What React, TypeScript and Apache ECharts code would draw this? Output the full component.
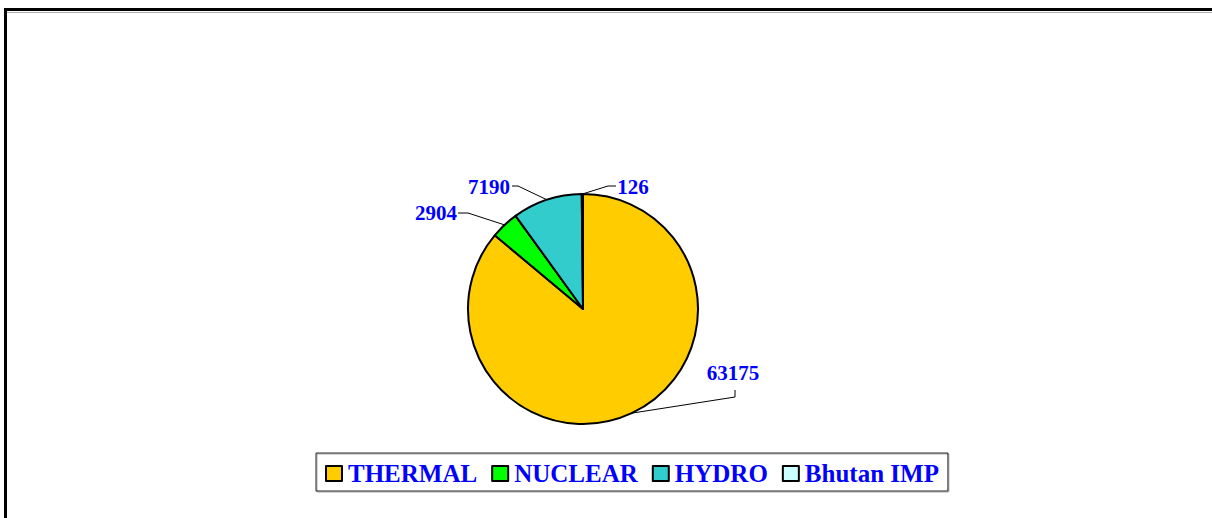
import React, { useEffect, useRef } from "react";
import * as echarts from "echarts";

const categories = ["THERMAL", "NUCLEAR", "HYDRO", "Bhutan IMP"];
const values = [63175, 2904, 7190, 126];
const colors = ["#FFCC00", "#00FF00", "#33CCCC", "#CCFFFF"];

// label placement (style/layout only)
const labelPlacement = [
  { x: 733, y: 373, bend: [735, 397], end: [735, 390] },
  { x: 436, y: 213, bend: [468, 213], end: [458, 213] },
  { x: 489, y: 187, bend: [518, 186], end: [512, 186] },
  { x: 633, y: 187, bend: [608, 186], end: [616, 186] },
];

export default function App() {
  const ref = useRef<HTMLDivElement>(null);
  useEffect(() => {
    if (!ref.current) return;
    const chart = echarts.init(ref.current, null, { renderer: "svg" });
    const font = "'Liberation Serif', 'Times New Roman', serif";
    chart.setOption({
      animation: false,
      backgroundColor: "#ffffff",
      graphic: [
        {
          type: "line",
          shape: { x1: 5.5, y1: 12.5, x2: 1212, y2: 12.5 },
          style: { stroke: "#b0b0b0", lineWidth: 1 },
          silent: true,
        },
        {
          type: "rect",
          shape: { x: 5.5, y: 9.5, width: 1300, height: 600 },
          style: { fill: "none", stroke: "#000", lineWidth: 3 },
          silent: true,
        },
      ],
      legend: {
        data: categories,
        left: 316,
        top: 453,
        orient: "horizontal",
        itemWidth: 16,
        itemHeight: 15,
        itemGap: 14,
        padding: [8, 9, 5, 9],
        borderColor: "#222",
        borderWidth: 1,
        shadowColor: "rgba(0,0,0,0.35)",
        shadowOffsetX: 1,
        shadowOffsetY: 1,
        shadowBlur: 0,
        icon: "rect",
        itemStyle: { borderColor: "#000", borderWidth: 2 },
        textStyle: {
          color: "#0000FF",
          fontWeight: "bold",
          fontSize: 25,
          fontFamily: font,
          padding: [0, 0, 0, 1],
        },
      },
      series: [
        {
          type: "pie",
          center: [583, 309],
          radius: 115,
          startAngle: 90,
          clockwise: true,
          avoidLabelOverlap: false,
          itemStyle: { borderColor: "#000", borderWidth: 2 },
          emphasis: { disabled: true },
          label: {
            show: true,
            position: "outside",
            formatter: "{c}",
            color: "#0000FF",
            fontWeight: "bold",
            fontSize: 21,
            fontFamily: font,
          },
          labelLine: {
            show: true,
            length: 10,
            length2: 10,
            lineStyle: { color: "#000", width: 1 },
          },
          labelLayout: (params: any) => {
            const p = labelPlacement[params.dataIndex];
            const pts = params.labelLinePoints;
            const start = pts && pts[0] ? [pts[0][0], pts[0][1]] : p.bend;
            return {
              x: p.x,
              y: p.y,
              align: "center",
              verticalAlign: "middle",
              labelLinePoints: [start, p.bend, p.end],
            };
          },
          data: categories.map((name, i) => ({
            name,
            value: values[i],
            itemStyle: { color: colors[i] },
          })),
        },
      ],
    });
    return () => chart.dispose();
  }, []);
  return (
    <div
      ref={ref}
      style={{ position: "fixed", left: 0, top: 0, width: 1212, height: 518 }}
    />
  );
}
